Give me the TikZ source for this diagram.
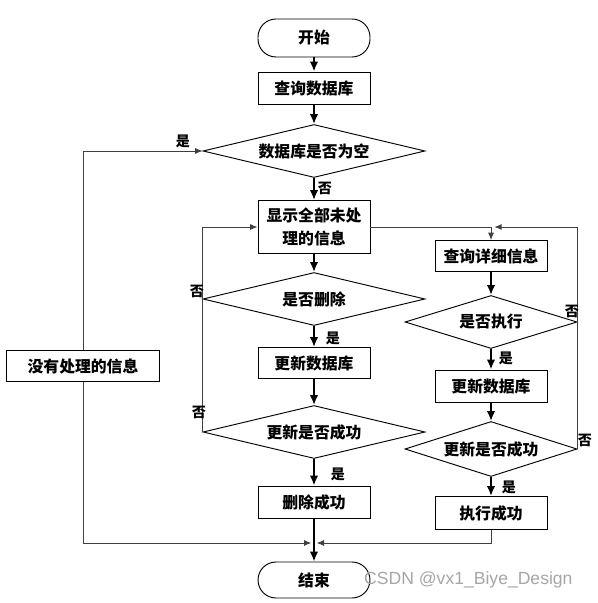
\documentclass[tikz,border=0pt]{standalone}
\usepackage{fontspec}
\newfontfamily\cjk{Noto Sans CJK SC}
\newfontfamily\wmfont{Liberation Sans}
\usepackage{tikz}
\usetikzlibrary{positioning, arrows.meta, shapes.geometric, calc}

\begin{document}
\begin{tikzpicture}[
  x=0.3mm, y=-0.3mm,
  font=\cjk\bfseries\fontsize{13.5}{20}\selectfont,
  box/.style={
    draw,
    line width=0.8pt,
    align=center,
    minimum width=33.6mm,
    minimum height=9.6mm,
    inner sep=2pt
  },
  term/.style={box, rounded corners=5.4mm, minimum height=11.4mm},
  test/.style={
    draw,
    diamond,
    line width=0.8pt,
    inner sep=0pt,
    shape aspect=4,
    minimum width=66.6mm,
    minimum height=15.9mm
  },
  flow/.style={-{Latex[length=3mm, width=2.6mm]}, line width=2.3pt},
  back/.style={-{Latex[length=2.2mm, width=1.8mm]}, line width=0.8pt, color=black!75},
  side/.style={font=\cjk\bfseries\fontsize{12}{14}\selectfont, inner sep=1pt}
]
\useasboundingbox (0,0) rectangle (597,603);

\node[term] (start) at (314,38) {开始};
\node[box] (query) at (314,88) {查询数据库};
\node[test] (empty) at (314,151) {数据库是否为空};
\node[box, minimum height=15.9mm] (show) at (314,227) {显示全部未处\\理的信息};
\node[test] (del) at (314,299) {是否删除};
\node[box, minimum height=9.3mm] (upd) at (314,363) {更新数据库};
\node[test] (updok) at (314,432) {更新是否成功};
\node[box] (delok) at (314,502) {删除成功};
\node[term, minimum height=10.8mm] (stop) at (314,580) {结束};
\coordinate (join) at (314,543);

\node[box, minimum width=45.9mm, minimum height=9.3mm] (none) at (83,366) {没有处理的信息};

\node[box, minimum height=9.3mm] (detail) at (491,256) {查询详细信息};
\node[test, minimum width=51.6mm] (exec) at (491,322) {是否执行};
\node[box] (upd2) at (491,386) {更新数据库};
\node[test, minimum width=51.6mm, minimum height=16.5mm] (updok2) at (491,449) {更新是否成功};
\node[box, minimum height=9.9mm] (execok) at (491,513) {执行成功};

\draw[flow] (start) -- (query);
\draw[flow] (query) -- (empty);
\draw[flow] (empty) -- (show);
\draw[flow] (show) -- (del);
\draw[flow] (del) -- (upd);
\draw[flow] (upd) -- (updok);
\draw[flow] (updok) -- (delok);
\draw[flow] (delok) -- (stop);

\draw[back] (show.east) -| (detail.north);
\draw[flow] (detail) -- (exec);
\draw[flow] (exec) -- (upd2);
\draw[flow] (upd2) -- (updok2);
\draw[flow] (updok2) -- (execok);
\draw[back] (updok2.east) -- (updok2.east |- show.east) -- ([xshift=1mm]detail.north |- show.east);

\draw[back] (updok.west) |- (show.west);
\draw[back] (none.north) |- (empty.west);
\draw[back] (none.south) |- ([xshift=-0.8mm]join);
\draw[back] (execok.south) |- ([xshift=0.8mm]join);

\node[side] (yes0) at (183,141) {是};
\node[side] (no0) at (325,188) {否};
\node[side] (no1) at (197,291) {否};
\node[side] (yes1) at (333,338) {是};
\node[side] (no2) at (199,412) {否};
\node[side] (yes2) at (338,474) {是};
\node[side] (yes3) at (506,358) {是};
\node[side] (no3) at (572,311) {否};
\node[side] (no4) at (585,440) {否};
\node[side] (yes4) at (509,487) {是};

\node[text=gray!70, font=\wmfont\fontsize{15}{18}\selectfont, anchor=west, inner sep=0pt] (mark) at (364,580) {CSDN @vx1\_Biye\_Design};
\end{tikzpicture}
\end{document}
